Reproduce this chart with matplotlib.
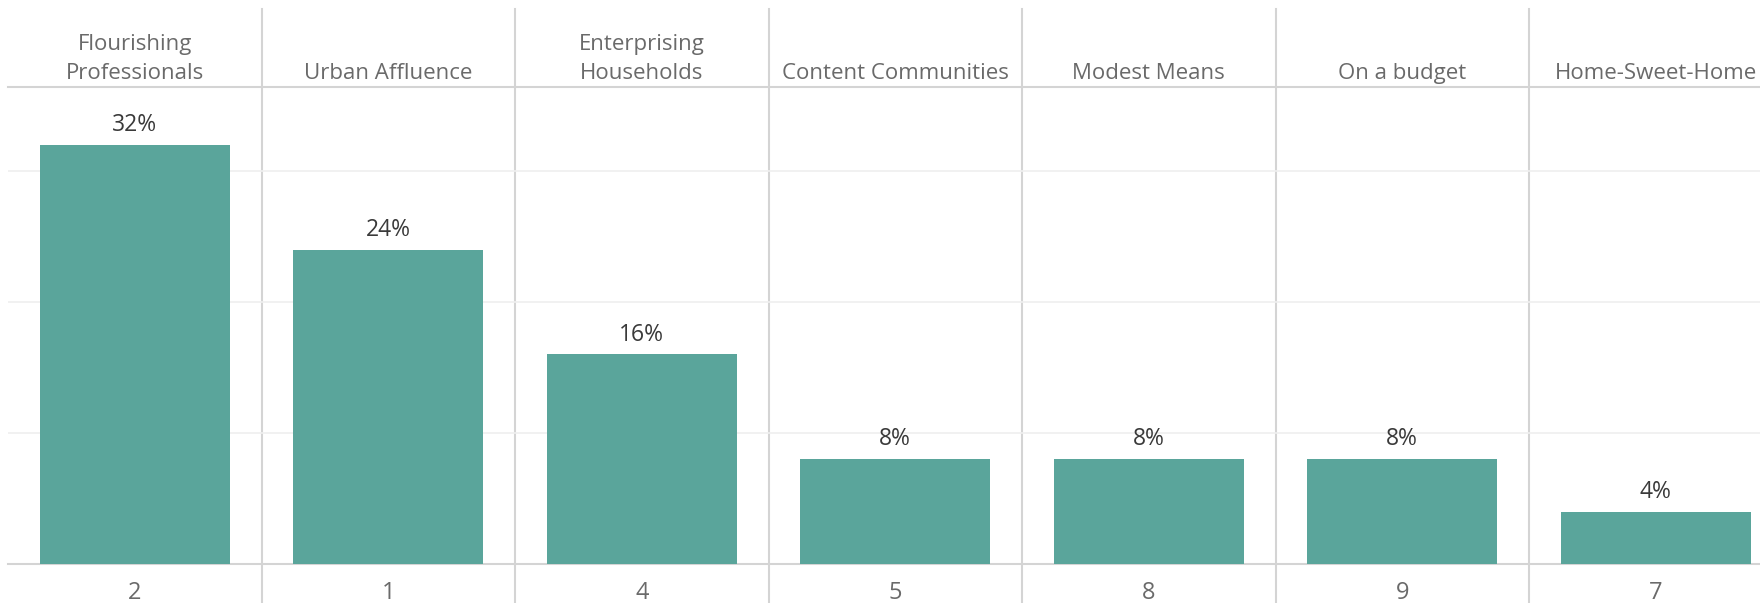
import matplotlib.pyplot as plt

segments = ["Flourishing\nProfessionals", "Urban Affluence", "Enterprising\nHouseholds",
            "Content Communities", "Modest Means", "On a budget", "Home-Sweet-Home"]
codes = ["2", "1", "4", "5", "8", "9", "7"]
share = [32, 24, 16, 8, 8, 8, 4]

plt.rcParams['font.family'] = ['Open Sans', 'DejaVu Sans']

W, H = 1760, 603
fig = plt.figure(figsize=(W / 100, H / 100), dpi=100)

# plot area in pixels (columns run past the right edge, like the original)
col_w = 253.5
left_px, top_px, base_px = 8, 86.5, 564
h_ax = base_px - top_px
ax = fig.add_axes([left_px / W, 1 - base_px / H, col_w * len(share) / W, h_ax / H])

x = range(len(share))
ax.bar(x, share, width=0.75, color='#5aa59b', zorder=3)
ax.set_xlim(-0.5, len(share) - 0.5)
ax.set_ylim(0, 36.45)

# light horizontal grid
ax.set_yticks([10, 20, 30])
ax.yaxis.grid(True, color='#efefef', lw=1.2)
ax.set_xticks([])
ax.tick_params(axis='y', length=0, labelleft=False)

for s in ['left', 'right']:
    ax.spines[s].set_visible(False)
for s in ['top', 'bottom']:
    ax.spines[s].set_color('#d4d4d4')
    ax.spines[s].set_linewidth(1.5)

# column dividers reach up through the header and down to the bottom
for i in range(1, len(share)):
    ax.axvline(i - 0.5, ymin=-(H - base_px) / h_ax, ymax=1 + (top_px - 9) / h_ax,
               color='#d4d4d4', lw=1.5, clip_on=False, zorder=1)

tr = ax.get_xaxis_transform()

# header labels
for i, lab in enumerate(segments):
    ax.text(i, (base_px - 79) / h_ax, lab, transform=tr,
            ha='center', va='baseline', fontsize=16, color='#6a6a6a', linespacing=1.5)

# value labels
for i, v in enumerate(share):
    ax.annotate(f"{v}%", (i, v), xytext=(0, 10), textcoords='offset points',
                ha='center', va='baseline', fontsize=16.5, color='#3a3a3a')

# segment codes under the bars
for i, c in enumerate(codes):
    ax.text(i, (base_px - 599) / h_ax, c, transform=tr,
            ha='center', va='baseline', fontsize=17, color='#6a6a6a')

fig.savefig('out.png', dpi=100)
